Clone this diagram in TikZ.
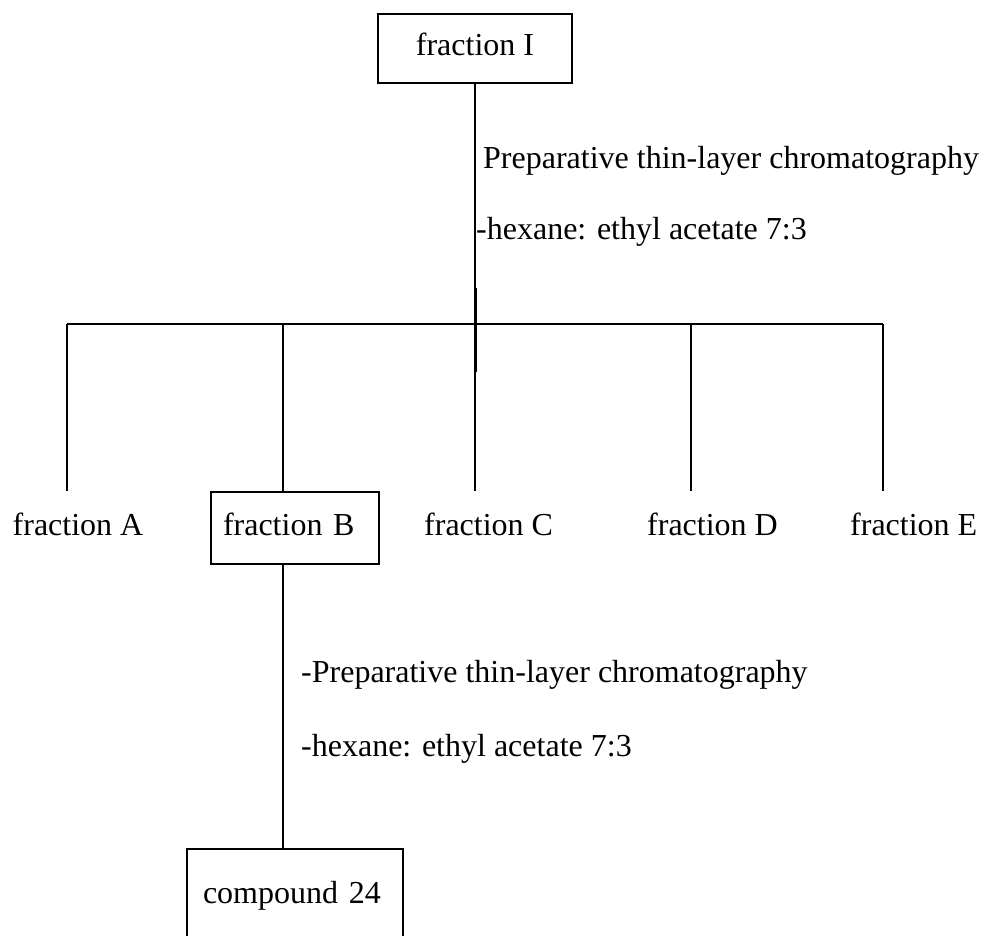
\documentclass[tikz,border=0pt]{standalone}
\usepackage{fontspec}
\setmainfont{Liberation Serif}
\begin{document}
\begin{tikzpicture}[x=1pt,y=-1pt,
  every node/.style={font=\fontsize{32}{38}\selectfont},
  lbl/.style={anchor=base west, inner sep=0pt},
  boxnode/.style={draw, line width=2.4pt, inner ysep=0pt},
  conn/.style={line width=1.8pt}]
\useasboundingbox[fill=white] (0,0) rectangle (982,935);
% boxes
\node[boxnode, minimum width=194pt, minimum height=69pt, text height=20pt, text depth=7pt] (fI) at (475,48.5) {fraction I};
\node[boxnode, inner xsep=12pt, text width=144pt, align=left, minimum height=72pt, text height=20pt, text depth=6pt] (fB) at (295,528) {fraction B};
\node[boxnode, inner xsep=16pt, text width=184pt, align=left, minimum height=100pt, text height=20pt, text depth=12pt] (c24) at (295,899) {compound 24};
% plain labels
\node[lbl] (fA) at (12.5,535) {fraction A};
\node[lbl] (fC) at (424,535) {fraction C};
\node[lbl] (fD) at (647,535) {fraction D};
\node[lbl] (fE) at (850,535) {fraction E};
\node[lbl] (t1) at (483,168) {Preparative thin-layer chromatography};
\node[lbl] (t2) at (476,239) {-hexane: ethyl acetate 7:3};
\node[lbl] (t3) at (301,682) {-Preparative thin-layer chromatography};
\node[lbl] (t4) at (301,756) {-hexane: ethyl acetate 7:3};
% junctions
\coordinate (jA) at (67,324);
\coordinate (jB) at (283,324);
\coordinate (jC) at (475,324);
\coordinate (jD) at (691,324);
\coordinate (jE) at (883,324);
\coordinate (ov1) at (475.4,288);
\coordinate (ov2) at (475.4,372);
% connectors
\draw[conn] (fI.south) -- (fI.south |- fB.north);
\draw[conn, line width=2.8pt] (ov1) -- (ov2);
\draw[conn] (jA) -- (jE);
\draw[conn] (jA) -- (jA |- fB.north);
\draw[conn] (jB) -- (jB |- fB.north);
\draw[conn] (jD) -- (jD |- fB.north);
\draw[conn] (jE) -- (jE |- fB.north);
\draw[conn] (fB.south -| jB) -- (c24.north -| jB);
\end{tikzpicture}
\end{document}
